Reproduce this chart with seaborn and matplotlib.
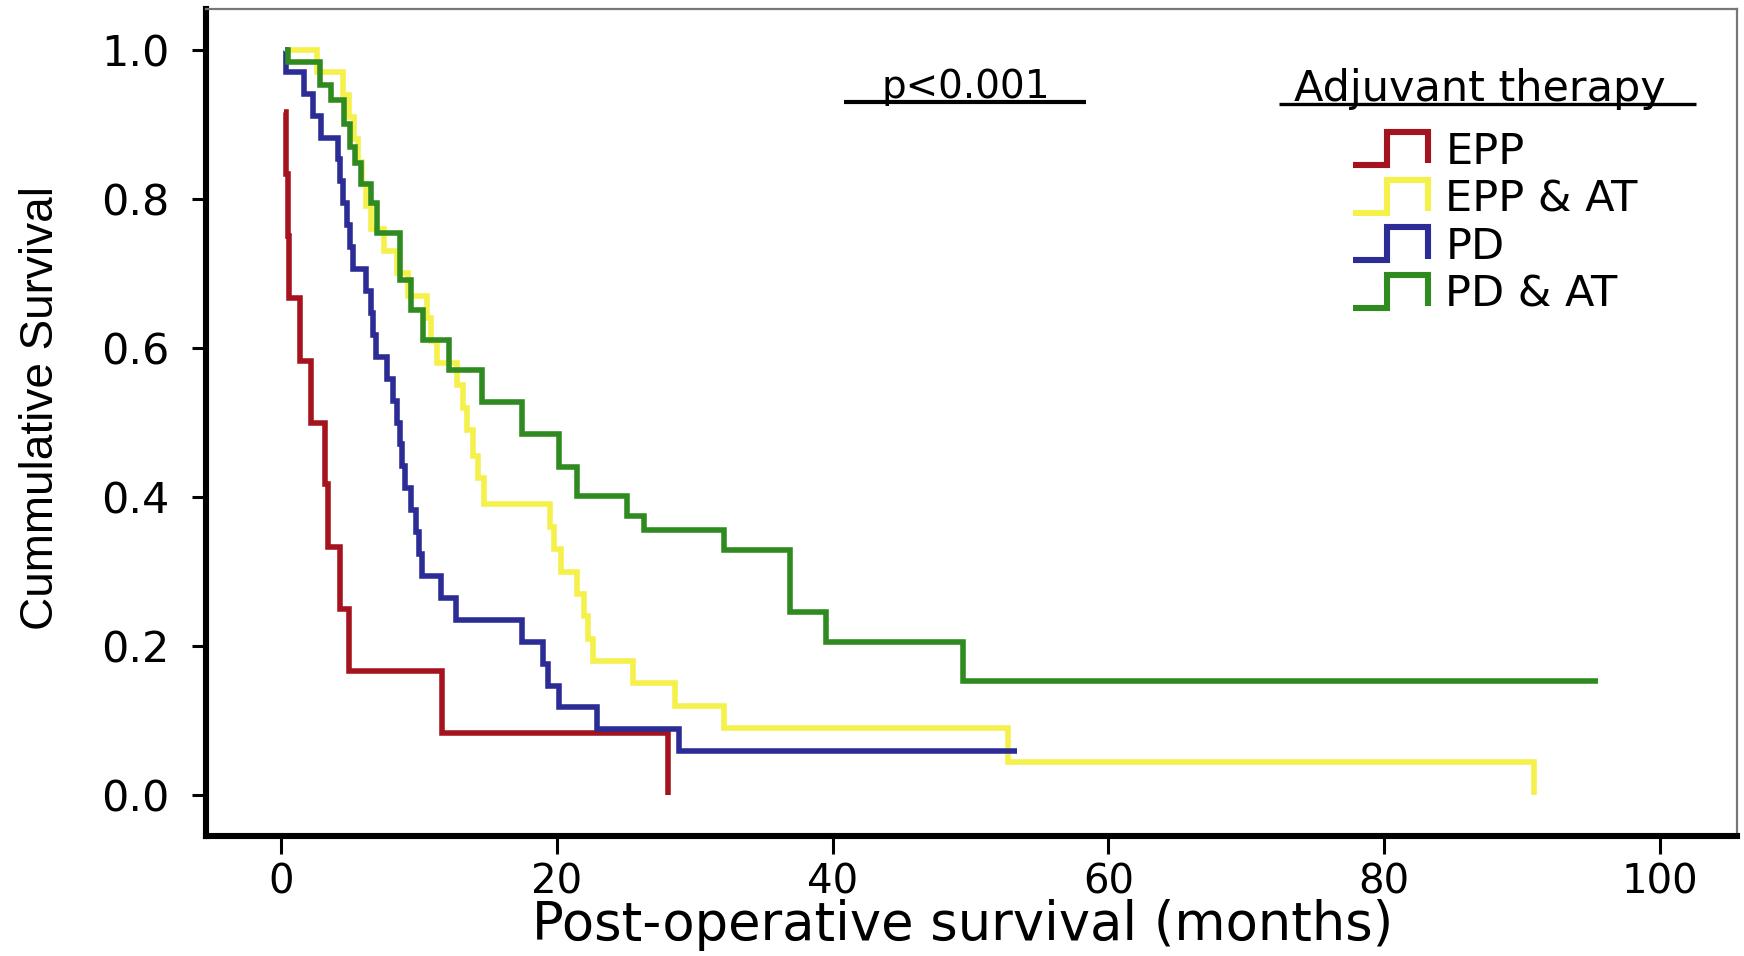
import numpy as np
import pandas as pd
import matplotlib
matplotlib.use("Agg")
import matplotlib.pyplot as plt
import seaborn as sns
from matplotlib.lines import Line2D
from matplotlib.legend_handler import HandlerBase
from matplotlib import font_manager

# ---------------- data ----------------
groups = ["EPP", "EPP & AT", "PD", "PD & AT"]

epp_months = [0.2, 0.35, 0.5, 0.6, 1.4, 2.2, 3.2, 3.4, 4.3, 4.9, 11.7, 28.1]
epp_surv = [0.917, 0.833, 0.750, 0.667, 0.583, 0.500, 0.417, 0.333, 0.250, 0.167, 0.083, 0.0]

eppat_months = [0.3, 2.6, 4.5, 4.9, 5.3, 5.6, 5.9, 6.2, 6.5, 7.5, 8.4, 9.2, 10.6, 10.9,
                11.3, 12.8, 13.2, 13.5, 13.9, 14.3, 14.7, 19.5, 19.8, 20.3, 21.5, 22.0,
                22.3, 22.6, 25.5, 28.6, 32.1, 52.7, 90.9]
eppat_surv = [1.0, 0.970, 0.940, 0.910, 0.880, 0.850, 0.820, 0.790, 0.760, 0.730, 0.700,
              0.670, 0.640, 0.610, 0.580, 0.550, 0.520, 0.490, 0.455, 0.425, 0.390, 0.360,
              0.330, 0.300, 0.270, 0.240, 0.210, 0.180, 0.150, 0.120, 0.090, 0.045, 0.0]

pd_months = [0.3, 0.4, 1.7, 2.3, 2.9, 4.1, 4.3, 4.5, 4.8, 5.0, 5.2, 6.2, 6.5, 6.7, 6.9,
             7.7, 8.1, 8.4, 8.6, 8.8, 9.0, 9.4, 9.8, 10.0, 10.2, 11.6, 12.7, 17.5, 19.0,
             19.4, 20.2, 22.9, 28.9, 53.4]
pd_surv = [1.0, 0.971, 0.941, 0.912, 0.882, 0.853, 0.824, 0.794, 0.765, 0.735, 0.706,
           0.676, 0.647, 0.618, 0.588, 0.559, 0.529, 0.500, 0.471, 0.441, 0.412, 0.382,
           0.353, 0.324, 0.294, 0.265, 0.235, 0.206, 0.176, 0.147, 0.118, 0.088, 0.059,
           0.059]

pdat_months = [0.3, 0.5, 2.8, 3.6, 4.6, 5.0, 5.4, 5.8, 6.5, 7.0, 8.6, 9.4, 10.3, 12.2,
               14.6, 17.5, 20.2, 21.5, 25.1, 26.3, 32.1, 36.9, 39.5, 49.5, 95.5]
pdat_surv = [1.0, 0.984, 0.953, 0.933, 0.900, 0.870, 0.848, 0.820, 0.795, 0.754, 0.691,
             0.651, 0.611, 0.570, 0.528, 0.485, 0.440, 0.402, 0.375, 0.356, 0.329, 0.246,
             0.205, 0.153, 0.153]

x_ticks = [0, 20, 40, 60, 80, 100]
y_ticks = [0.0, 0.2, 0.4, 0.6, 0.8, 1.0]
y_tick_labels = ["0.0", "0.2", "0.4", "0.6", "0.8", "1.0"]

colors = ["#A5131F", "#F5F04A", "#2C2C96", "#2F8A20"]

df = pd.concat([
    pd.DataFrame({"months": epp_months, "survival": epp_surv, "group": groups[0]}),
    pd.DataFrame({"months": eppat_months, "survival": eppat_surv, "group": groups[1]}),
    pd.DataFrame({"months": pd_months, "survival": pd_surv, "group": groups[2]}),
    pd.DataFrame({"months": pdat_months, "survival": pdat_surv, "group": groups[3]}),
], ignore_index=True)

# ---------------- style ----------------
sns.set_style("ticks")
plt.rcParams["font.family"] = ["DejaVu Sans"]
plt.rcParams["text.color"] = "black"
plt.rcParams["axes.labelcolor"] = "black"
plt.rcParams["xtick.color"] = "black"
plt.rcParams["ytick.color"] = "black"

fig = plt.figure(figsize=(17.44, 9.56), dpi=100)
ax = fig.add_axes([0.1181, 0.1255, 0.8779, 0.8651])

sns.lineplot(data=df, x="months", y="survival", hue="group", hue_order=groups,
             palette=colors, estimator=None, drawstyle="steps-post", lw=4.0,
             legend=False, ax=ax, solid_capstyle="butt", solid_joinstyle="miter")

ax.set_xlim(-5.44, 105.6)
ax.set_ylim(-0.055, 1.055)
ax.set_xticks(x_ticks)
ax.set_xticklabels([str(v) for v in x_ticks])
ax.set_yticks(y_ticks)
ax.set_yticklabels(y_tick_labels)

for side in ["left", "bottom"]:
    ax.spines[side].set_linewidth(4.4)
    ax.spines[side].set_color("black")
for side in ["top", "right"]:
    ax.spines[side].set_visible(True)
    ax.spines[side].set_linewidth(1.6)
    ax.spines[side].set_color("#777777")

ax.tick_params(axis="y", direction="out", length=10, width=2.2, colors="black",
               labelcolor="black", labelsize=31, pad=16, left=True)
ax.tick_params(axis="x", direction="out", length=13, width=2.2, colors="black",
               labelcolor="black", labelsize=29, pad=6, bottom=True)
ax.grid(False)

# axis labels
yl_family = "DejaVu Sans"
yl_size = 30
names = {f.name for f in font_manager.fontManager.ttflist}
if "Liberation Sans Narrow" in names:
    yl_family, yl_size = "Liberation Sans Narrow", 40
elif "Liberation Sans" in names:
    yl_family, yl_size = "Liberation Sans", 33

ax.set_xlabel("Post-operative survival (months)", fontsize=38, va="baseline",
              color="black")
ax.xaxis.set_label_coords(0.494, -0.1258)
ax.set_ylabel("Cummulative Survival", fontsize=yl_size, family=yl_family, va="center",
              color="black")
ax.yaxis.set_label_coords(-0.108, 0.518)

# p-value annotation
ax.text(0.496, 0.906, "p<0.001", transform=ax.transAxes, ha="center", va="center",
        fontsize=28, color="black")
ax.plot([0.417, 0.575], [0.888, 0.888], transform=ax.transAxes, color="black",
        lw=3, clip_on=False, solid_capstyle="butt")

# legend title
ax.text(0.832, 0.903, "Adjuvant therapy", transform=ax.transAxes, ha="center",
        va="center", fontsize=31, color="black")
ax.plot([0.701, 0.973], [0.885, 0.885], transform=ax.transAxes, color="black",
        lw=2.4, clip_on=False, solid_capstyle="butt")


class StepHandler(HandlerBase):
    def create_artists(self, legend, orig_handle, xdescent, ydescent, width, height,
                       fontsize, trans):
        x0, y0 = -xdescent, -ydescent
        xs = [x0, x0 + 0.45 * width, x0 + 0.45 * width, x0 + width, x0 + width]
        ys = [y0, y0, y0 + height, y0 + height, y0 + 0.05 * height]
        ln = Line2D(xs, ys, color=orig_handle.get_color(), lw=4.4,
                    solid_joinstyle="miter", solid_capstyle="butt", transform=trans)
        return [ln]


handles = [Line2D([], [], color=c) for c in colors]
leg = ax.legend(handles, groups, handler_map={Line2D: StepHandler()}, loc="upper left",
                bbox_to_anchor=(0.749, 0.853), frameon=False, fontsize=31,
                handlelength=1.75, handleheight=0.8, handletextpad=0.4,
                labelspacing=0.13, borderpad=0, borderaxespad=0)
for t in leg.get_texts():
    t.set_color("black")

fig.savefig("out.png", dpi=100, facecolor="white")
